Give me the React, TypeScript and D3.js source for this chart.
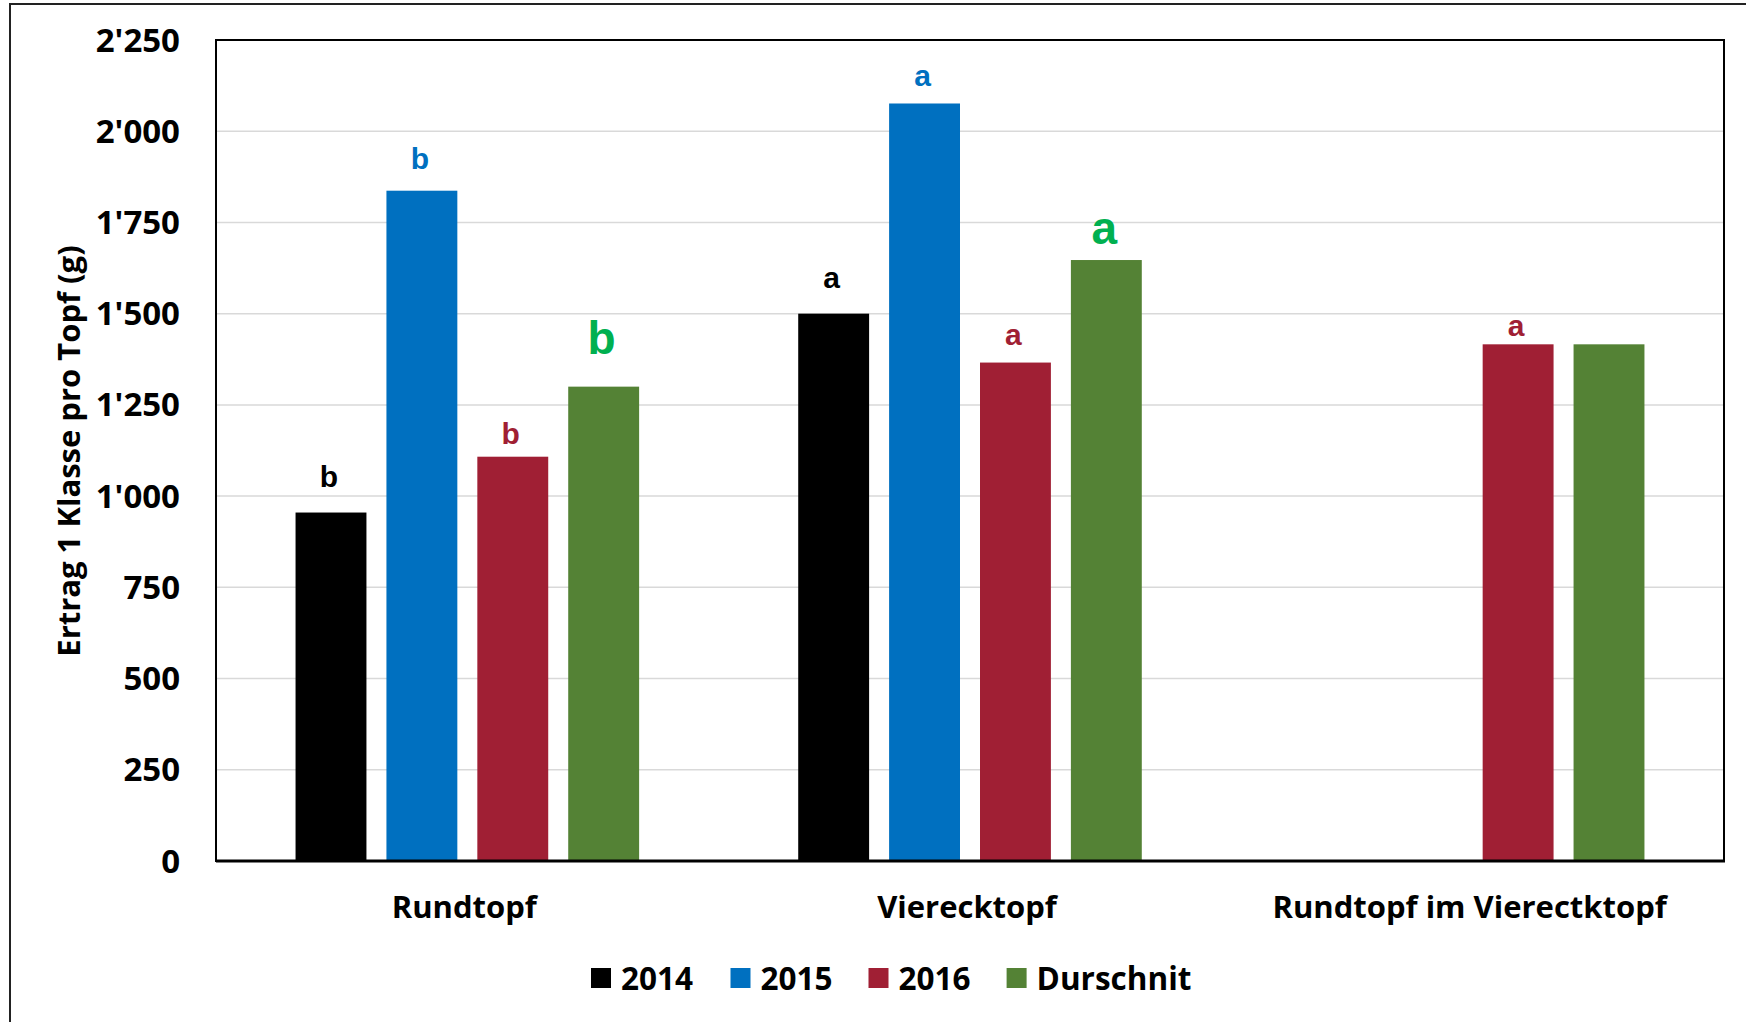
import React from "react";
import * as d3 from "d3";

const categories = ["Rundtopf", "Viereck­topf", "Rundtopf im Vierectktopf"].map((c) => c.replace("\u00AD", ""));
const seriesNames = ["2014", "2015", "2016", "Durschnit"];
const values2014: (number | null)[] = [955, 1500, null];
const values2015: (number | null)[] = [1837, 2076, null];
const values2016: (number | null)[] = [1108, 1366, 1416];
const valuesAvg: (number | null)[] = [1300, 1647, 1416];
const letters2014: (string | null)[] = ["b", "a", null];
const letters2015: (string | null)[] = ["b", "a", null];
const letters2016: (string | null)[] = ["b", "a", "a"];
const lettersAvg: (string | null)[] = ["b", "a", null];
const yTicks = [0, 250, 500, 750, 1000, 1250, 1500, 1750, 2000, 2250];
const yTitle = "Ertrag 1 Klasse pro Topf (g)";

// styles / layout
const W = 1746;
const H = 1022;
const M = { left: 216, right: 1724, top: 40, bottom: 861 };
const barColors = ["#000000", "#0070C0", "#A01F34", "#548235"];
const letterColors = ["#000000", "#0070C0", "#A01F34", "#00B050"];
const letterSizes = [30, 30, 30, 46];
// label gap above bar (layout, per series per category)
const letterGap = [
  [26, 26, 0],
  [22, 17, 0],
  [13, 18, 8],
  [33, 16, 0],
];
const FONT = "'Open Sans', 'Liberation Sans', Arial, sans-serif";
const LFONT = "'Liberation Sans', Arial, sans-serif";

export default function App() {
  const series = [values2014, values2015, values2016, valuesAvg];
  const letters = [letters2014, letters2015, letters2016, lettersAvg];
  const y = d3.scaleLinear().domain([0, 2250]).range([M.bottom, M.top]);
  const p = 0.3165;
  const x0 = d3
    .scaleBand<string>()
    .domain(categories)
    .range([M.left, M.right])
    .paddingInner(p)
    .paddingOuter(p / 2);
  const x1 = d3
    .scaleBand<string>()
    .domain(seriesNames)
    .range([0, x0.bandwidth()])
    .paddingInner(0.22)
    .paddingOuter(0);
  const fmt = (v: number) => d3.format(",")(v).replace(/,/g, "'");

  const legendX = [591, 730.5, 868.5, 1006.6];

  return (
    <svg
      width={W}
      height={H}
      style={{ position: "absolute", left: 0, top: 0, background: "#fff" }}
    >
      <rect x={0} y={0} width={W} height={H} fill="#fff" />
      <rect x={10} y={4} width={W + 20} height={H + 20} fill="none" stroke="#222" strokeWidth={2} />
      {/* gridlines */}
      {yTicks
        .filter((t) => t > 0 && t < 2250)
        .map((t) => (
          <line key={t} x1={M.left} x2={M.right} y1={y(t)} y2={y(t)} stroke="#d9d9d9" strokeWidth={1.5} />
        ))}
      {/* bars */}
      {categories.map((c, ci) =>
        series.map((s, si) => {
          const v = s[ci];
          if (v == null) return null;
          const bx = (x0(c) as number) + (x1(seriesNames[si]) as number);
          return (
            <rect
              key={c + si}
              x={bx}
              y={y(v)}
              width={x1.bandwidth()}
              height={y(0) - y(v)}
              fill={barColors[si]}
            />
          );
        })
      )}
      {/* letters */}
      {categories.map((c, ci) =>
        series.map((s, si) => {
          const v = s[ci];
          const l = letters[si][ci];
          if (v == null || !l) return null;
          const bx = (x0(c) as number) + (x1(seriesNames[si]) as number) + x1.bandwidth() / 2 - 2;
          return (
            <text
              key={"l" + c + si}
              x={bx}
              y={y(v) - letterGap[si][ci]}
              textAnchor="middle"
              fontFamily={LFONT}
              fontWeight="bold"
              fontSize={letterSizes[si]}
              fill={letterColors[si]}
            >
              {l}
            </text>
          );
        })
      )}
      {/* plot border */}
      <rect x={M.left} y={M.top} width={M.right - M.left} height={M.bottom - M.top} fill="none" stroke="#000" strokeWidth={2} />
      <line x1={M.left} x2={M.right + 1} y1={M.bottom} y2={M.bottom} stroke="#000" strokeWidth={3} />
      {/* y tick labels */}
      {yTicks.map((t) => (
        <text
          key={"t" + t}
          x={180}
          y={y(t)}
          dy="0.35em"
          textAnchor="end"
          fontFamily={FONT}
          fontWeight="bold"
          fontSize={33}
          fill="#000"
        >
          {fmt(t)}
        </text>
      ))}
      {/* y title */}
      <text
        transform={`translate(80,${451}) rotate(-90)`}
        textAnchor="middle"
        fontFamily={FONT}
        fontWeight="bold"
        fontSize={31}
        fill="#000"
      >
        {yTitle}
      </text>
      {/* category labels */}
      {categories.map((c) => (
        <text
          key={"c" + c}
          x={(x0(c) as number) + x0.bandwidth() / 2 - 3}
          y={918}
          textAnchor="middle"
          fontFamily={FONT}
          fontWeight="bold"
          fontSize={31}
          fill="#000"
        >
          {c}
        </text>
      ))}
      {/* legend */}
      {seriesNames.map((s, i) => (
        <g key={"lg" + s}>
          <rect x={legendX[i]} y={968} width={20} height={20} fill={barColors[i]} />
          <text
            x={legendX[i] + 30}
            y={990}
            fontFamily={FONT}
            fontWeight="bold"
            fontSize={31.5}
            fill="#000"
          >
            {s}
          </text>
        </g>
      ))}
    </svg>
  );
}
